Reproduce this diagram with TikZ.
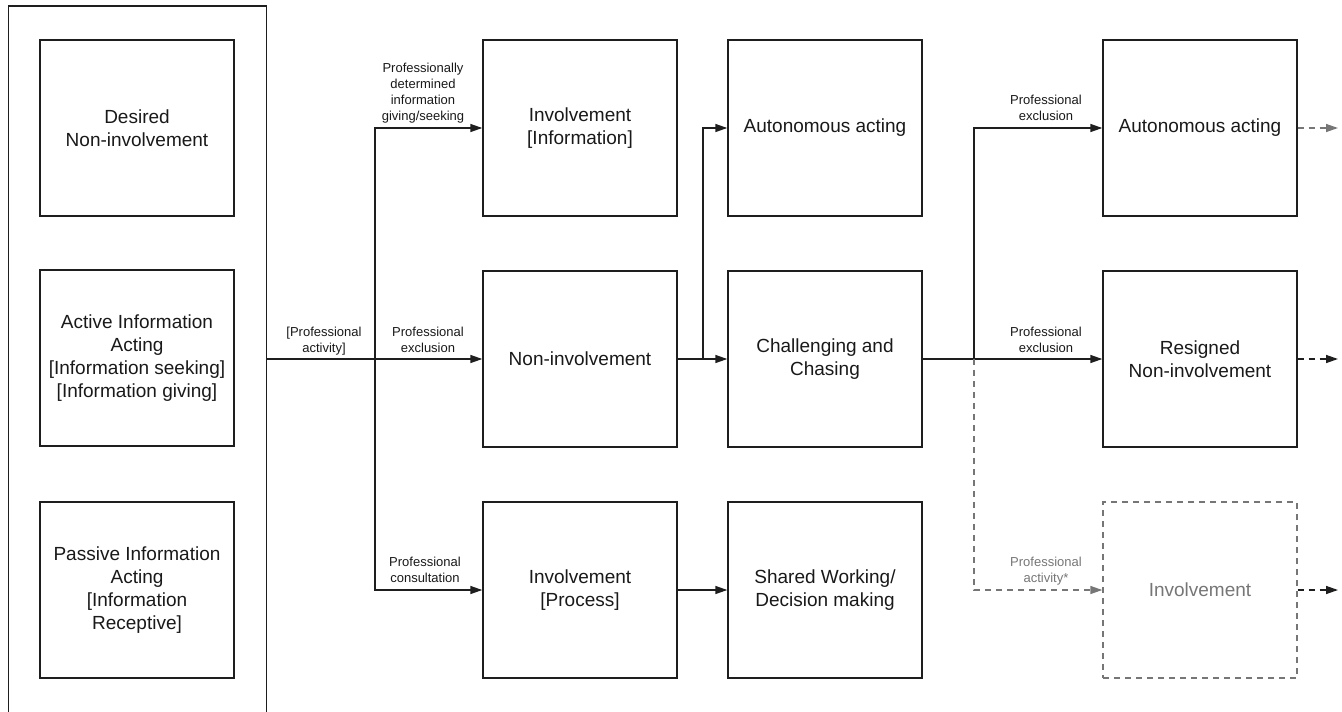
\documentclass[tikz,border=0pt]{standalone}
\usepackage{fontspec}
\setmainfont{Liberation Sans}
\usetikzlibrary{arrows.meta}
\definecolor{ghostgray}{RGB}{118,118,118}
\definecolor{linecol}{RGB}{30,30,30}
\begin{document}
\begin{tikzpicture}[x=1pt,y=-1pt,
  box/.style={draw=linecol, line width=1.4pt, minimum width=194pt, minimum height=176pt,
    inner sep=0pt, align=center, font=\fontsize{19}{23}\selectfont, text=black!90},
  ghostbox/.style={box, draw=ghostgray, dash pattern=on 6pt off 5pt, text=ghostgray},
  lbl/.style={font=\fontsize{13}{16}\selectfont, align=center, inner sep=0pt,
    anchor=south, text depth=3pt, text=black!90},
  plain/.style={draw=linecol, line width=1.4pt},
  conn/.style={plain, -{Triangle[length=12pt,width=8pt]}},
  gconn/.style={draw=ghostgray, line width=1.4pt, dash pattern=on 6pt off 5pt,
    -{Triangle[length=12pt,width=8pt]}, color=ghostgray},
  dconn/.style={draw=linecol, line width=1.4pt, dash pattern=on 6pt off 5pt,
    -{Triangle[length=12pt,width=8pt]}},
]
\useasboundingbox (0,0) rectangle (1342,712);

% left grouping frame (open at the bottom)
\node[minimum width=258pt, minimum height=706pt, inner sep=0pt] (group) at (137.5,359) {};
\draw[plain] (group.south west) -- (group.north west) -- (group.north east) -- (group.south east);

% left column
\node[box] (desired) at (137,128) {Desired\\Non-involvement};
\node[box] (active) at (137,358) {Active Information\\Acting\\{[}Information seeking]\\{[}Information giving]};
\node[box] (passive) at (137,590) {Passive Information\\Acting\\{[}Information\\Receptive]};

% column 2
\node[box] (invinfo) at (580,128) {Involvement\\{[}Information]};
\node[box] (noninv) at (580,359) {Non-involvement};
\node[box] (invproc) at (580,590) {Involvement\\{[}Process]};

% column 3
\node[box] (auto1) at (825,128) {Autonomous acting};
\node[box] (chall) at (825,359) {Challenging and\\Chasing};
\node[box] (shared) at (825,590) {Shared Working/\\Decision making};

% column 4
\node[box] (auto2) at (1200,128) {Autonomous acting};
\node[box] (resigned) at (1200,359) {Resigned\\Non-involvement};
\node[ghostbox] (ghost) at (1200,590) {Involvement};

% junctions and free ends
\coordinate (j1) at (375,359);
\coordinate (j2) at (703,359);
\coordinate (j3) at (974,359);
\coordinate (o1) at (1338,128);
\coordinate (o2) at (1338,359);
\coordinate (o3) at (1338,590);

% connectors
\draw[plain] (group.east) -- (j1);
\draw[conn] (j1) -- (noninv.west);
\draw[conn] (j1) |- (invinfo.west);
\draw[conn] (j1) |- (invproc.west);

\draw[conn] (noninv.east) -- (chall.west);
\draw[conn] (j2) |- (auto1.west);
\draw[conn] (invproc.east) -- (shared.west);

\draw[conn] (chall.east) -- (resigned.west);
\draw[conn] (j3) |- (auto2.west);
\draw[gconn] (j3) |- (ghost.west);

\draw[gconn] (auto2.east) -- (o1);
\draw[dconn] (resigned.east) -- (o2);
\draw[dconn] (ghost.east) -- (o3);

% connector labels
\node[lbl] (lpd) at (423,124) {Professionally\\determined\\information\\giving/seeking};
\node[lbl] (lpa) at (324,356) {[Professional\\activity]};
\node[lbl] (lpe1) at (428,356) {Professional\\exclusion};
\node[lbl] (lpc) at (425,586) {Professional\\consultation};
\node[lbl] (lpe2) at (1046,124) {Professional\\exclusion};
\node[lbl] (lpe3) at (1046,356) {Professional\\exclusion};
\node[lbl, text=ghostgray] (lpa2) at (1046,586) {Professional\\activity*};
\end{tikzpicture}
\end{document}
